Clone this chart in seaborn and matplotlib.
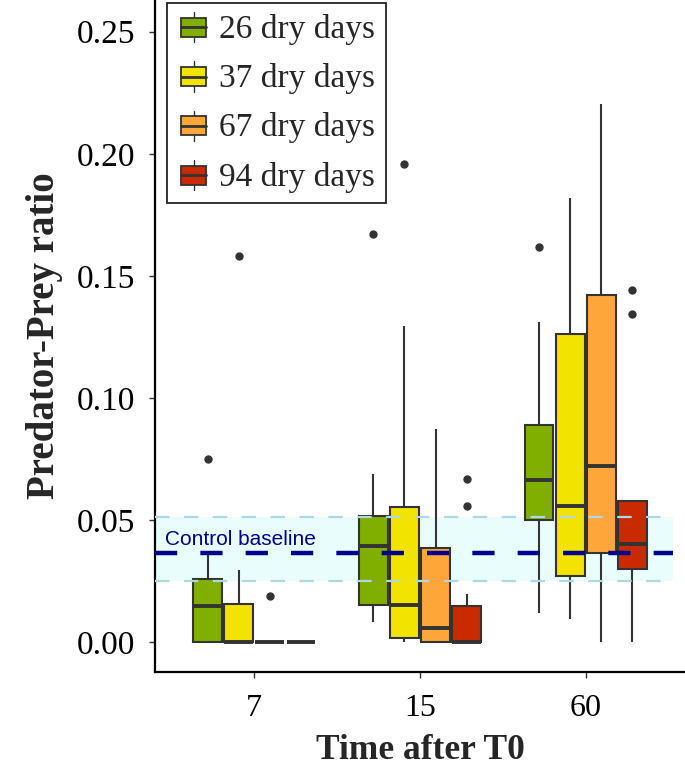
import pandas as pd
import seaborn as sns
import matplotlib.pyplot as plt
from matplotlib.patches import Rectangle, Patch
from matplotlib.lines import Line2D
from matplotlib.legend_handler import HandlerBase

# time after T0 (days) and the drying treatments
days = ['7', '15', '60']
dry_levels = ['26 dry days', '37 dry days', '67 dry days', '94 dry days']
colors = ['#80AF00', '#F2E300', '#FFA63B', '#C92A00']

# predator-prey ratios per treatment, one list per sampling time (7, 15, 60)
ratio_26 = [
    [0, 0, 0, 0.008, 0.0148, 0.020, 0.026, 0.0365, 0.075],
    [0.0083, 0.012, 0.015, 0.030, 0.0395, 0.045, 0.0516, 0.0689, 0.167],
    [0.012, 0.030, 0.050, 0.058, 0.0664, 0.075, 0.0887, 0.131, 0.162],
]
ratio_37 = [
    [0, 0, 0, 0, 0, 0.010, 0.0156, 0.0295, 0.158],
    [0, 0.001, 0.0018, 0.008, 0.0152, 0.035, 0.0552, 0.1295, 0.196],
    [0.0094, 0.020, 0.027, 0.040, 0.0557, 0.090, 0.126, 0.160, 0.1818],
]
ratio_67 = [
    [0, 0, 0, 0, 0, 0, 0, 0, 0.019],
    [0, 0, 0, 0.002, 0.0056, 0.020, 0.0384, 0.060, 0.0872],
    [0, 0.020, 0.0365, 0.050, 0.0721, 0.100, 0.1423, 0.180, 0.2205],
]
ratio_94 = [
    [0, 0, 0, 0, 0, 0, 0, 0, 0],
    [0, 0, 0, 0, 0, 0, 0, 0.005, 0.010, 0.0148, 0.0197, 0.0559, 0.0668],
    [0, 0.020, 0.030, 0.035, 0.0403, 0.050, 0.0576, 0.1344, 0.1443],
]

# control baseline (mean and range)
baseline = 0.0365
baseline_low = 0.0248
baseline_high = 0.0512

rows = []
for level, series in zip(dry_levels, [ratio_26, ratio_37, ratio_67, ratio_94]):
    for day, values in zip(days, series):
        for v in values:
            rows.append({'time': day, 'dry': level, 'ratio': v})
df = pd.DataFrame(rows)


class BoxHandler(HandlerBase):
    # small boxplot glyph for the legend
    def create_artists(self, legend, orig_handle, xdescent, ydescent,
                       width, height, fontsize, trans):
        w = height * 1.1
        x0 = (width - w) / 2 - xdescent
        y0 = -ydescent
        box = Rectangle((x0, y0 + height * 0.05), w, height * 0.8,
                        facecolor=orig_handle.get_facecolor(),
                        edgecolor='#333333', lw=1.3, transform=trans)
        mid = y0 + height * 0.45
        med = Line2D([x0, x0 + w], [mid, mid],
                     color='#333333', lw=2, transform=trans)
        top = Line2D([x0 + w / 2] * 2, [y0 + height * 0.85, y0 + height * 1.1],
                     color='#333333', lw=1, transform=trans)
        bot = Line2D([x0 + w / 2] * 2, [y0 - height * 0.2, y0 + height * 0.05],
                     color='#333333', lw=1, transform=trans)
        return [top, bot, box, med]


sns.set_style('white')
plt.rcParams['font.family'] = ['Liberation Serif', 'DejaVu Serif']

fig = plt.figure(figsize=(6.85, 7.82), dpi=100)
ax = fig.add_axes([155 / 685, 1 - 672 / 782, 530 / 685, 672 / 782])

x_end = 2.53
ax.fill_between([-0.6, x_end], baseline_low, baseline_high,
                color='#EAFDFD', lw=0, zorder=0)

sns.boxplot(data=df, x='time', y='ratio', hue='dry', order=days,
            hue_order=dry_levels, palette=colors, saturation=1,
            width=0.75, gap=0.07, showcaps=False, linecolor='#333333',
            linewidth=1.5,
            flierprops=dict(marker='o', markersize=5, markerfacecolor='#333333',
                            markeredgecolor='#333333'),
            medianprops=dict(linewidth=2.8, color='#333333'),
            legend=False, ax=ax)

for yv in (baseline_low, baseline_high):
    ax.plot([-0.6, x_end], [yv, yv], color='#ADD8E6', lw=1.6,
            ls=(0, (6.5, 6.5)), zorder=6)
ax.plot([-0.6, x_end], [baseline, baseline], color='#00008B', lw=3.2,
        ls=(0, (5, 5.2)), zorder=7)
ax.text(-0.54, 0.0418, 'Control baseline', color='#00008B', fontsize=15,
        family=['Liberation Sans', 'DejaVu Sans'], va='center', zorder=8)

ax.set_xlim(-0.6, 2.6)
ax.set_ylim(-0.0123, 0.263)
ax.set_yticks([0, 0.05, 0.10, 0.15, 0.20, 0.25])
ax.set_yticklabels(['0.00', '0.05', '0.10', '0.15', '0.20', '0.25'])
ax.tick_params(axis='both', length=4, width=1, color='#333333',
               labelcolor='black', bottom=True, left=True)
ax.tick_params(axis='y', labelsize=24, pad=10)
ax.tick_params(axis='x', labelsize=23, pad=12)

for side in ('top', 'right'):
    ax.spines[side].set_visible(False)
for side in ('left', 'bottom'):
    ax.spines[side].set_color('black')
    ax.spines[side].set_linewidth(1.6)

ax.set_xlabel('Time after T0', fontsize=25.5, fontweight='bold', labelpad=8)
ax.set_ylabel('Predator-Prey ratio', fontsize=28, fontweight='bold', labelpad=10)

handles = [Patch(facecolor=c, edgecolor='#333333') for c in colors]
leg = ax.legend(handles, dry_levels, handler_map={Patch: BoxHandler()},
                loc='upper left', bbox_to_anchor=(167 / 685, 1 - 3 / 782),
                bbox_transform=fig.transFigure, borderaxespad=0, fontsize=24,
                frameon=True, fancybox=False, framealpha=1, edgecolor='#222222',
                handlelength=0.95, handletextpad=0.3, labelspacing=0.55,
                borderpad=0.32)
leg.get_frame().set_linewidth(1.3)

fig.savefig('out.png', dpi=100)
